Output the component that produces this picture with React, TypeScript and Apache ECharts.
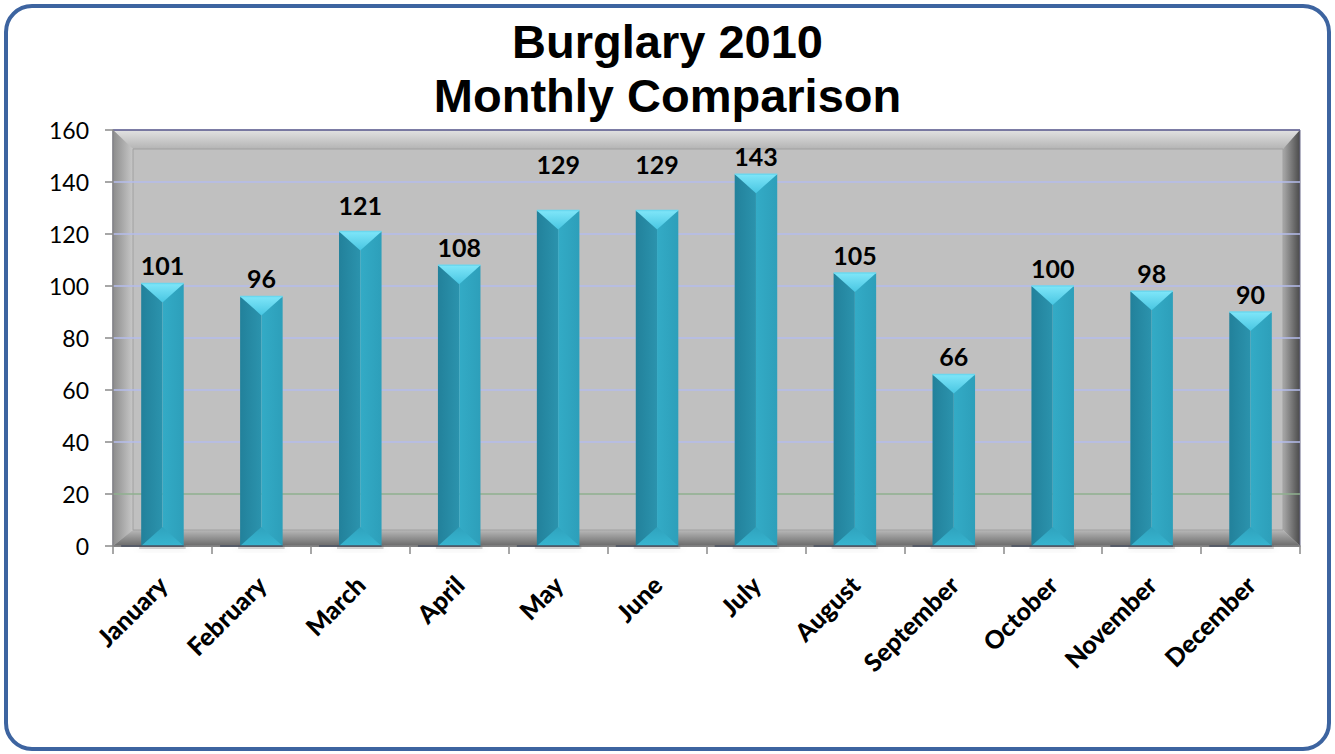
import React, { useEffect, useRef } from "react";
import * as echarts from "echarts";

const months = ["January", "February", "March", "April", "May", "June", "July", "August", "September", "October", "November", "December"];
const burglaries = [101, 96, 121, 108, 129, 129, 143, 105, 66, 100, 98, 90];
const yTicks = { min: 0, max: 160, interval: 20 };
const titleLines = ["Burglary 2010", "Monthly Comparison"];
// extra upward label shift (px) where the original moved labels higher
const labelLift: Record<number, number> = { 2: 8, 4: 28, 5: 28 };

const W = 1335;
const H = 754;
const G = { left: 113, top: 130, right: 35, bottom: 208 };

export default function App() {
  const ref = useRef<HTMLDivElement>(null);
  useEffect(() => {
    document.body.style.margin = "0";
    const chart = echarts.init(ref.current!, null, { renderer: "svg" });
    const L = G.left, T = G.top, R = W - G.right, B = H - G.bottom;
    const il = 20, it = 19, ir = 17, ib = 16;
    const lin = (x1: number, y1: number, x2: number, y2: number, a: string, b: string) =>
      new echarts.graphic.LinearGradient(x1, y1, x2, y2, [{ offset: 0, color: a }, { offset: 1, color: b }]);

    chart.setOption({
      animation: false,
      backgroundColor: "#ffffff",
      title: {
        text: titleLines.join("\n"),
        left: "center",
        top: 9,
        textStyle: { fontFamily: "Liberation Sans", fontWeight: "bold", fontSize: 47, lineHeight: 54, color: "#000" },
      },
      graphic: [
        { type: "rect", z: -20, shape: { x: 6, y: 6, width: W - 12, height: H - 11, r: 26 }, style: { fill: "#fff", stroke: "#3d64a0", lineWidth: 4 } },
        { type: "rect", z: -10, shape: { x: L, y: T, width: R - L, height: B - T }, style: { fill: "#c0c0c0" } },
        { type: "polygon", z: -9, shape: { points: [[L, T], [R, T], [R - ir, T + it], [L + il, T + it]] }, style: { fill: lin(0, 0, 0, 1, "#e2e2e2", "#b4b4b4") } },
        { type: "polygon", z: -9, shape: { points: [[L, T], [L + il, T + it], [L + il, B - ib], [L, B]] }, style: { fill: lin(0, 0, 1, 0, "#8c8c8c", "#c8c8c8") } },
        { type: "polygon", z: -9, shape: { points: [[R, T], [R, B], [R - ir, B - ib], [R - ir, T + it]] }, style: { fill: lin(0, 0, 1, 0, "#a8a8a8", "#4a4a4a") } },
        { type: "polygon", z: -9, shape: { points: [[L, B], [R, B], [R - ir, B - ib], [L + il, B - ib]] }, style: { fill: lin(0, 0, 0, 1, "#b8b8b8", "#6a6a6a") } },
        { type: "rect", z: -8, shape: { x: L + il, y: T + it, width: R - L - il - ir, height: B - T - it - ib }, style: { fill: "none", stroke: "#a0a0a0", lineWidth: 1 } },
      ],
      grid: { left: G.left, top: G.top, right: G.right, bottom: G.bottom, show: true, backgroundColor: "transparent", borderColor: "#6a6a8a", borderWidth: 1 },
      xAxis: {
        type: "category",
        data: months,
        axisLine: { show: true, lineStyle: { color: "#8a8a8a", width: 1.5 } },
        axisTick: { show: true, length: 8, lineStyle: { color: "#8a8a8a", width: 1.5 } },
        axisLabel: { rotate: 45, margin: 34, interval: 0, fontFamily: "Lato", fontWeight: 900, fontSize: 25, color: "#000" },
      },
      yAxis: {
        type: "value",
        min: yTicks.min,
        max: yTicks.max,
        interval: yTicks.interval,
        axisLine: { show: true, lineStyle: { color: "#8a8a8a", width: 1.5 } },
        axisTick: { show: true, length: 8, lineStyle: { color: "#8a8a8a", width: 1.5 } },
        axisLabel: { margin: 24, fontFamily: "Lato", fontSize: 23, color: "#000" },
        splitLine: { show: true, lineStyle: { color: ["#555555", "#8fb08f", "#b4bcec", "#b4bcec", "#b4bcec", "#b4bcec", "#b4bcec", "#b4bcec", "#6a6a9a"], width: 1.5 } },
      },
      series: [
        {
          type: "custom",
          data: burglaries.map((v, i) => [i, v]),
          encode: { x: 0, y: 1 },
          renderItem: (params: any, api: any) => {
            const i = api.value(0);
            const v = api.value(1);
            const top = api.coord([i, v]);
            const base = api.coord([i, 0]);
            const w = api.size([1, 0])[0] * 0.43;
            const cx = top[0];
            const l = cx - w / 2;
            const r = cx + w / 2;
            const yt = top[1];
            const yb = base[1];
            const cap = Math.min(19, (yb - yt) / 2);
            const lift = labelLift[i] || 0;
            return {
              type: "group",
              children: [
                { type: "rect", shape: { x: l - 2, y: yb - 1, width: w + 4, height: 4 }, style: { fill: "rgba(90,90,90,0.25)", shadowBlur: 8, shadowColor: "rgba(0,0,0,0.35)" } },
                { type: "rect", shape: { x: l, y: yt, width: w / 2, height: yb - yt }, style: { fill: lin(0, 0, 1, 0, "#22819b", "#2b93ad") } },
                { type: "rect", shape: { x: cx, y: yt, width: w / 2, height: yb - yt }, style: { fill: lin(0, 0, 1, 0, "#33abc6", "#2d9fba") } },
                { type: "polygon", shape: { points: [[l, yb], [r, yb], [cx, yb - cap]] }, style: { fill: lin(0, 0, 0, 1, "#2fa3be", "#37b5d0") } },
                { type: "polygon", shape: { points: [[l, yt], [r, yt], [cx, yt + cap]] }, style: { fill: lin(0, 0, 0, 1, "#7fe6f9", "#48c6e2") } },
                { type: "line", shape: { x1: l, y1: yt, x2: r, y2: yt }, style: { stroke: "#6ad8ef", lineWidth: 1.5 } },
                { type: "line", shape: { x1: l - 20, y1: yb, x2: r, y2: yb }, style: { stroke: "#4a5060", lineWidth: 1.5 } },
                {
                  type: "text",
                  x: cx,
                  y: yt - 6 - lift,
                  style: { text: String(v), textAlign: "center", textVerticalAlign: "bottom", fontFamily: "Lato", fontWeight: "bold", fontSize: 25, fill: "#000" },
                },
              ],
            };
          },
        },
      ],
    });
    return () => chart.dispose();
  }, []);
  return <div ref={ref} style={{ width: W, height: H }} />;
}
